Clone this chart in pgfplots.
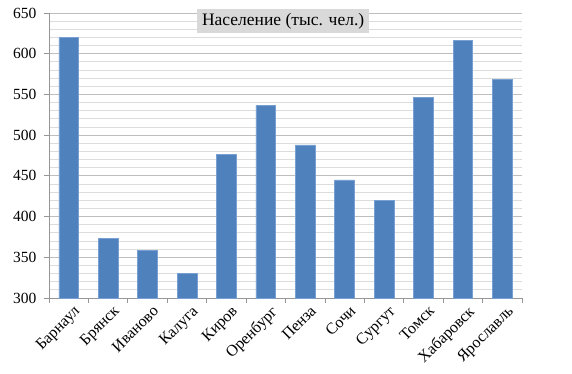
\documentclass[border=0pt]{standalone}
\usepackage{fontspec}
\setmainfont{Liberation Serif}
\usepackage{pgfplots}
\pgfplotsset{compat=1.18}
\definecolor{barblue}{RGB}{79,129,189}
\definecolor{baredge}{RGB}{120,160,210}
\definecolor{majgrid}{RGB}{190,190,190}
\definecolor{mingrid}{RGB}{220,220,220}
\definecolor{axgray}{RGB}{150,150,150}
\definecolor{titlegray}{RGB}{217,217,217}
\begin{document}
\begin{tikzpicture}
\begin{axis}[
  name=ax,
  scale only axis,
  width=473bp, height=285bp,
  xmin=-0.5, xmax=11.5,
  ymin=300, ymax=650,
  ytick={300,350,...,650},
  minor y tick num=4,
  xtick={0,...,11},
  xticklabels={Барнаул,Брянск,Иваново,Калуга,Киров,Оренбург,Пенза,Сочи,Сургут,Томск,Хабаровск,Ярославль},
  minor xtick={-0.5,0.5,...,11.5},
  x tick label style={rotate=45, anchor=north east, inner sep=1bp, yshift=-3bp, xshift=3bp, font=\fontsize{16bp}{18bp}\selectfont},
  ymajorgrids, yminorgrids,
  major grid style={draw=majgrid, line width=0.8bp},
  minor grid style={draw=mingrid, line width=0.8bp},
  axis x line*=bottom, axis y line*=left,
  axis line style={draw=axgray, line width=0.8bp, -},
  tick align=outside,
  tick pos=left,
  xtick style={draw=none},
  minor x tick style={draw=axgray, line width=0.8bp},
  ytick style={draw=axgray, line width=0.8bp},
  minor y tick style={draw=none},
  major tick length=5bp, minor tick length=5bp,
  y tick label style={font=\fontsize{15.5bp}{18bp}\selectfont, xshift=-4bp},
  /pgf/number format/assume math mode=true,
  /pgf/number format/1000 sep={},
  ybar, bar width=0.5,
  clip=false,
]
\addplot[fill=barblue, draw=baredge, line width=0.6bp] coordinates {
  (0,620) (1,373) (2,358) (3,330) (4,476) (5,537)
  (6,488) (7,445) (8,420) (9,546) (10,616) (11,568)
};
\node[fill=titlegray, inner xsep=5bp, inner ysep=4bp, font=\fontsize{17.5bp}{20bp}\selectfont]
  at (rel axis cs:0.495,0.972) {Население (тыс. чел.)};
\end{axis}
\useasboundingbox ([xshift=-49bp,yshift=-76bp]ax.south west) rectangle ([xshift=50bp,yshift=13bp]ax.north east);
\end{tikzpicture}
\end{document}
